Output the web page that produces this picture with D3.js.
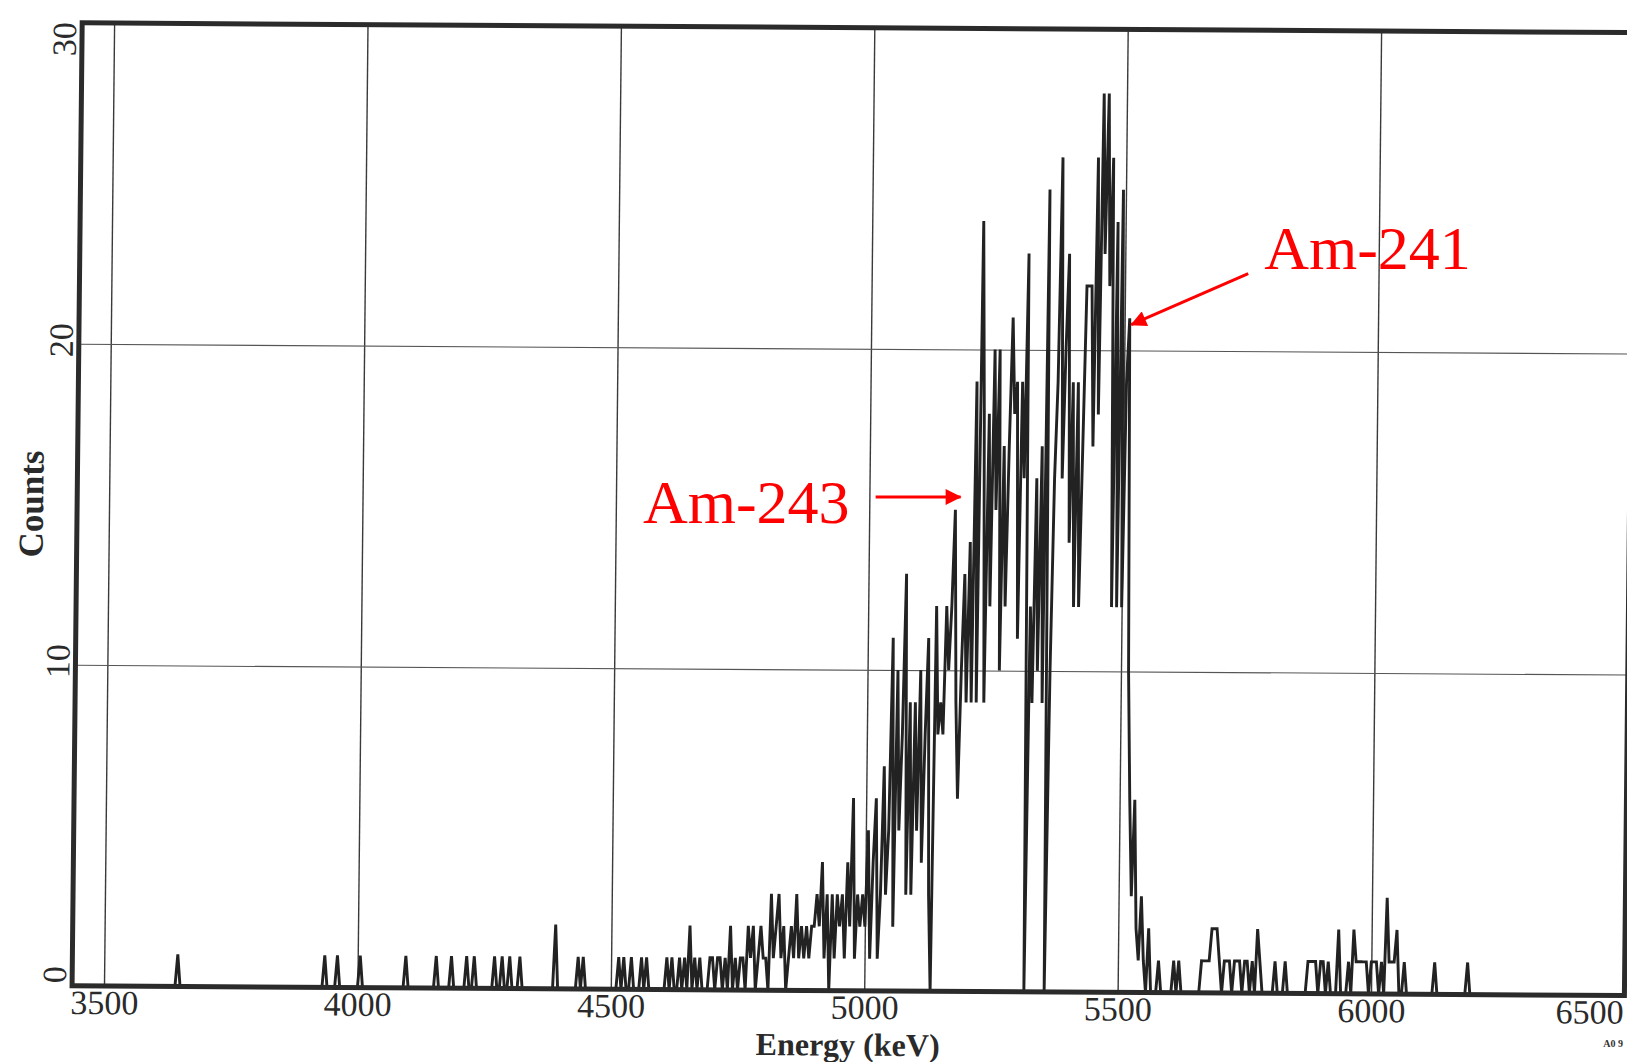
<!DOCTYPE html>
<html>
<head>
<meta charset="utf-8">
<script src="https://cdn.jsdelivr.net/npm/d3@7"></script>
<style>
  html, body { margin: 0; padding: 0; background: #fff; }
  svg { display: block; }
  text { font-family: "Liberation Serif", "Times New Roman", serif; }
</style>
</head>
<body>
<div class="chart"></div>
<script>
// ---- data ----
var binWidth = 5;                       // keV per channel
var xTicks = [3500, 4000, 4500, 5000, 5500, 6000, 6500];
var yTicks = [0, 10, 20, 30];

// isolated counts below the main group
var lowSpikeE = [3645, 3935, 3960, 4005, 4095, 4155, 4185, 4215, 4230, 4270, 4285, 4300, 4320, 4390, 4435, 4445];
var lowSpikeC = [1, 1, 1, 1, 1, 1, 1, 1, 1, 1, 1, 1, 1, 2, 1, 1];

// dense part, one value per channel from 4500 keV
var peakStart = 4500;
var peakCounts = [
  0, 0, 0, 1, 0, 1, 0, 0, 1, 0,
  0, 0, 1, 0, 1, 0, 0, 0, 0, 0,
  0, 0, 1, 0, 1, 0, 0, 1, 0, 1,
  0, 2, 0, 1, 0, 1, 0, 0, 0, 1,
  1, 0, 1, 1, 0, 1, 0, 2, 0, 1,
  0, 1, 1, 0, 2, 1, 2, 0, 1, 2,
  1, 1, 0, 3, 1, 2, 3, 1, 2, 0,
  1, 2, 1, 3, 1, 2, 1, 2, 1, 2,
  2, 3, 2, 4, 1, 3, 0, 3, 1, 3,
  2, 3, 1, 4, 2, 6, 1, 3, 2, 3,
  2, 5, 1, 4, 6, 1, 3, 7, 3, 5,
  11, 2, 10, 5, 8, 13, 3, 9, 3, 9,
  5, 10, 4, 8, 11, 3, 0, 12, 8, 9,
  8, 12, 10, 12, 15, 9, 6, 10, 13, 9,
  14, 9, 19, 9, 24, 18, 9, 18, 12, 20,
  15, 20, 10, 17, 12, 17, 21, 18, 19, 11,
  19, 16, 23, 0, 12, 9, 16, 10, 17, 9,
  25, 0, 10, 16, 19, 26, 16, 20, 23, 14,
  19, 12, 19, 12, 17, 22, 22, 22, 17, 26,
  18, 28, 23, 28, 22, 26, 12, 24, 12, 25,
  12, 19, 21, 10, 6, 3, 6, 2, 1, 3,
  1, 0, 2
];

// isolated counts above the main group
var highSpikeE = [5580, 5610, 5620, 5665, 5670, 5675, 5680, 5685, 5690, 5695, 5700, 5710, 5715, 5720,
  5730, 5735, 5740, 5750, 5755, 5765, 5775, 5780, 5810, 5830, 5875, 5880, 5885, 5890, 5900, 5905,
  5915, 5935, 5955, 5965, 5970, 5975, 5980, 5985, 5990, 6000, 6005, 6010, 6020, 6030, 6035, 6040,
  6045, 6050, 6065, 6125, 6190];
var highSpikeC = [1, 1, 1, 1, 1, 1, 1, 2, 2, 2, 1, 1, 1, 1,
  1, 1, 1, 1, 1, 1, 2, 1, 1, 1, 1, 1, 1, 1, 1, 1,
  1, 2, 1, 2, 1, 1, 1, 1, 1, 1, 1, 1, 1, 3, 1, 1,
  1, 2, 1, 1, 1];

var annoLabels = ["Am-243", "Am-241"];
var annoE = [5180, 5513];
var annoC = [15.4, 20.8];

// ---- layout ----
var W = 1627, H = 1062,
    frameE = [3437, 6500],
    x = d3.scaleLinear().domain([3500, 6000]).range([104, 1371]),
    y = d3.scaleLinear().domain([0, 30]).range([986, 23]);

// the scan is slightly rotated and sheared
var rot = 0.0063, shear = 0.0105;
function warp(px, py) {
  return [px - shear * py + shear * y(0), py + rot * (px - x(3500))];
}

var svg = d3.select(".chart").append("svg")
    .attr("width", W)
    .attr("height", H);

var plot = svg.append("g")
    .attr("transform", "matrix(1," + rot + "," + (-shear) + ",1," + (shear * y(0)) + "," + (-rot * x(3500)) + ")");

// build channel list
var lookup = new Map();
var energies = d3.range(3440, frameE[1] + 1, binWidth);
energies.forEach(function(e) { lookup.set(e, 0); });
lowSpikeE.forEach(function(e, i) { lookup.set(e, lowSpikeC[i]); });
peakCounts.forEach(function(c, i) { lookup.set(peakStart + i * binWidth, c); });
highSpikeE.forEach(function(e, i) { lookup.set(e, highSpikeC[i]); });
var spectrum = energies.map(function(e) { return {e: e, c: lookup.get(e)}; });

// x axis: grid + labels
var xAxis = d3.axisBottom(x)
    .tickValues(xTicks)
    .tickSize(-(y(0) - y(30)))
    .tickPadding(4)
    .tickFormat(d3.format("d"));

var gx = plot.append("g")
    .attr("class", "axis axis--x")
    .attr("transform", "translate(0," + y(0) + ")")
    .call(xAxis);
gx.select(".domain").remove();
gx.selectAll("line").attr("stroke", "#3a3a3a").attr("stroke-width", 1.4);
gx.selectAll("text")
    .attr("font-size", 34)
    .attr("font-family", "Liberation Serif, serif")
    .attr("fill", "#2a2a2a")
    .attr("text-anchor", function(d, i) { return i === xTicks.length - 1 ? "end" : "middle"; })
    .attr("x", function(d, i) { return i === xTicks.length - 1 ? (x(frameE[1]) - x(6500) - 1) : 0; });

// y axis: grid + rotated labels
var yAxis = d3.axisLeft(y)
    .tickValues(yTicks)
    .tickSize(-(x(frameE[1]) - x(frameE[0])));

var gy = plot.append("g")
    .attr("class", "axis axis--y")
    .attr("transform", "translate(" + x(frameE[0]) + ",0)")
    .call(yAxis);
gy.select(".domain").remove();
gy.selectAll("line").attr("stroke", "#555").attr("stroke-width", 1.1);
gy.selectAll("text")
    .attr("font-size", 34)
    .attr("font-family", "Liberation Serif, serif")
    .attr("fill", "#2a2a2a")
    .attr("transform", "rotate(-90)")
    .attr("dy", 0)
    .attr("y", -6)
    .attr("x", function(d, i) { return i === 0 ? 3 : (i === yTicks.length - 1 ? 1 : 4); })
    .attr("text-anchor", function(d, i) { return i === 0 ? "start" : (i === yTicks.length - 1 ? "end" : "middle"); });

// spectrum trace
var line = d3.line()
    .x(function(d) { return x(d.e); })
    .y(function(d) { return y(d.c); });

plot.append("path")
    .datum(spectrum)
    .attr("d", line)
    .attr("fill", "none")
    .attr("stroke", "#222")
    .attr("stroke-width", 2.9)
    .attr("stroke-linejoin", "miter")
    .attr("stroke-miterlimit", 2);

// frame
plot.append("rect")
    .attr("x", x(frameE[0]))
    .attr("y", y(30))
    .attr("width", x(frameE[1]) - x(frameE[0]))
    .attr("height", y(0) - y(30))
    .attr("fill", "none")
    .attr("stroke", "#2b2b2b")
    .attr("stroke-width", 5);

// axis titles
var midX = (x(frameE[0]) + x(frameE[1])) / 2;
plot.append("text")
    .attr("x", midX)
    .attr("y", y(0) + 65)
    .attr("text-anchor", "middle")
    .attr("font-size", 32)
    .attr("font-weight", "bold")
    .attr("fill", "#2a2a2a")
    .text("Energy (keV)");

plot.append("text")
    .attr("transform", "translate(" + (x(frameE[0]) - 34) + "," + ((y(0) + y(30)) / 2) + ") rotate(-90)")
    .attr("text-anchor", "middle")
    .attr("font-size", 35)
    .attr("font-weight", "bold")
    .attr("fill", "#2a2a2a")
    .text("Counts");

// annotations (overlaid on the scan, not rotated)
svg.append("defs").append("marker")
    .attr("id", "head")
    .attr("markerUnits", "userSpaceOnUse")
    .attr("viewBox", "0 0 16 16")
    .attr("refX", 15)
    .attr("refY", 8)
    .attr("markerWidth", 17)
    .attr("markerHeight", 16)
    .attr("orient", "auto")
    .append("path")
    .attr("d", "M0,0 L16,8 L0,16 Z")
    .attr("fill", "#f00");

var tailOffset = [[-85, 0], [117, -51]];
var textOffset = [[-111, 26], [133, -56]];
var textAnchor = ["end", "start"];

annoLabels.forEach(function(label, i) {
  var tip = warp(x(annoE[i]), y(annoC[i]));
  svg.append("line")
      .attr("x1", tip[0] + tailOffset[i][0])
      .attr("y1", tip[1] + tailOffset[i][1])
      .attr("x2", tip[0])
      .attr("y2", tip[1])
      .attr("stroke", "#f00")
      .attr("stroke-width", 3)
      .attr("marker-end", "url(#head)");
  svg.append("text")
      .attr("x", tip[0] + textOffset[i][0])
      .attr("y", tip[1] + textOffset[i][1])
      .attr("text-anchor", textAnchor[i])
      .attr("font-size", 62)
      .attr("fill", "#f00")
      .text(label);
});

// small print code at the corner of the sheet
svg.append("text")
    .attr("x", W - 4)
    .attr("y", H - 15)
    .attr("text-anchor", "end")
    .attr("font-size", 10)
    .attr("font-weight", "bold")
    .attr("font-family", "DejaVu Sans, sans-serif")
    .attr("fill", "#333")
    .text("A0 9");
</script>
</body>
</html>
